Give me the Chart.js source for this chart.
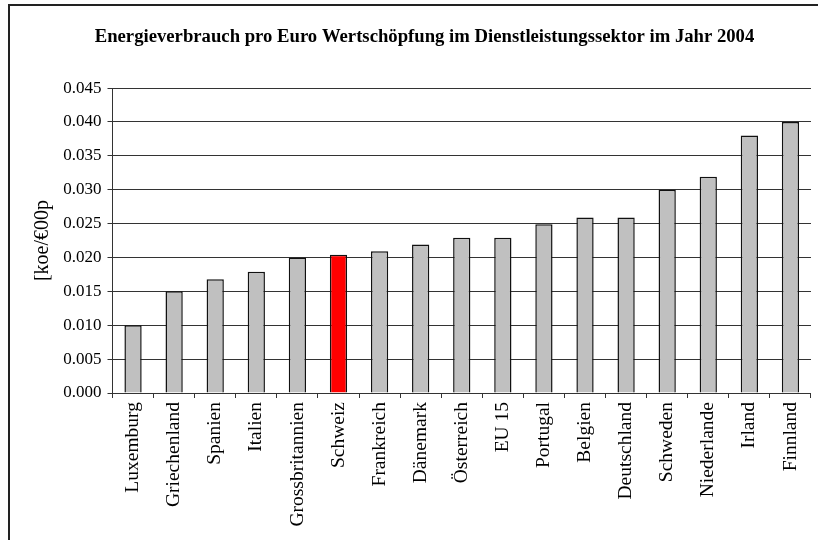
<!DOCTYPE html>
<html>
<head>
<meta charset="utf-8">
<script src="https://cdn.jsdelivr.net/npm/chart.js@4.4.0/dist/chart.umd.min.js"></script>
<style>
  html, body { margin: 0; padding: 0; background: #fff; }
  #wrap { width: 818px; height: 540px; }
</style>
</head>
<body>
<div id="wrap"><canvas id="chart" width="818" height="540"></canvas></div>
<script>
// Energieverbrauch pro Euro Wertschöpfung, Dienstleistungssektor 2004
const laender = ['Luxemburg', 'Griechenland', 'Spanien', 'Italien', 'Grossbritannien', 'Schweiz',
    'Frankreich', 'Dänemark', 'Österreich', 'EU 15', 'Portugal', 'Belgien', 'Deutschland',
    'Schweden', 'Niederlande', 'Irland', 'Finnland'];
const verbrauch = [0.0100, 0.0150, 0.0168, 0.0179, 0.0200, 0.0204, 0.0209, 0.0219, 0.0229,
    0.0229, 0.0249, 0.0259, 0.0259, 0.0300, 0.0319, 0.0380, 0.0400];
const hervorheben = 'Schweiz';
const yTicks = { min: 0, max: 0.045, step: 0.005 };

const serif = "'Liberation Serif', 'Times New Roman', serif";

// Rahmen um das ganze Diagramm (rechts/unten ausserhalb des Bildes)
const rahmen = {
    id: 'rahmen',
    afterDraw(chart) {
        const ctx = chart.ctx;
        ctx.save();
        ctx.strokeStyle = '#222';
        ctx.lineWidth = 2;
        ctx.strokeRect(9, 5, 900, 600);
        ctx.restore();
    }
};

new Chart(document.getElementById('chart'), {
    type: 'bar',
    data: {
        labels: laender,
        datasets: [{
            data: verbrauch,
            backgroundColor: laender.map(l => l === hervorheben ? '#ff0000' : '#c0c0c0'),
            borderColor: '#111',
            borderWidth: 1.5,
            categoryPercentage: 1,
            barPercentage: 0.42
        }]
    },
    options: {
        responsive: false,
        animation: false,
        layout: { padding: { left: 36, right: 5, top: 0, bottom: 0 } },
        plugins: {
            legend: { display: false },
            tooltip: { enabled: false },
            title: {
                display: true,
                text: 'Energieverbrauch pro Euro Wertschöpfung im Dienstleistungssektor im Jahr 2004',
                color: '#000',
                font: { family: serif, size: 18.7, weight: 'bold', lineHeight: 1.2 },
                padding: { top: 26, bottom: 39.6 }
            }
        },
        scales: {
            x: {
                grid: { drawOnChartArea: false, color: '#333', tickLength: 5, offset: true },
                border: { color: '#333', width: 1 },
                ticks: {
                    color: '#000',
                    font: { family: serif, size: 19.5 },
                    maxRotation: 90,
                    minRotation: 90,
                    padding: 4,
                    autoSkip: false
                },
                afterFit(scale) { scale.height = 147; }
            },
            y: {
                min: yTicks.min,
                max: yTicks.max,
                grid: { color: '#333', lineWidth: 1, tickLength: 5 },
                border: { color: '#333', width: 1 },
                ticks: {
                    stepSize: yTicks.step,
                    color: '#000',
                    font: { family: serif, size: 17 },
                    padding: 6,
                    callback: v => v.toFixed(3)
                },
                title: {
                    display: true,
                    text: '[koe/€00p',
                    color: '#000',
                    font: { family: serif, size: 20, lineHeight: 1.2 },
                    padding: { top: -5, bottom: 0 }
                },
                afterFit(scale) { scale.width = 76.5; }
            }
        }
    },
    plugins: [rahmen]
});
</script>
</body>
</html>
